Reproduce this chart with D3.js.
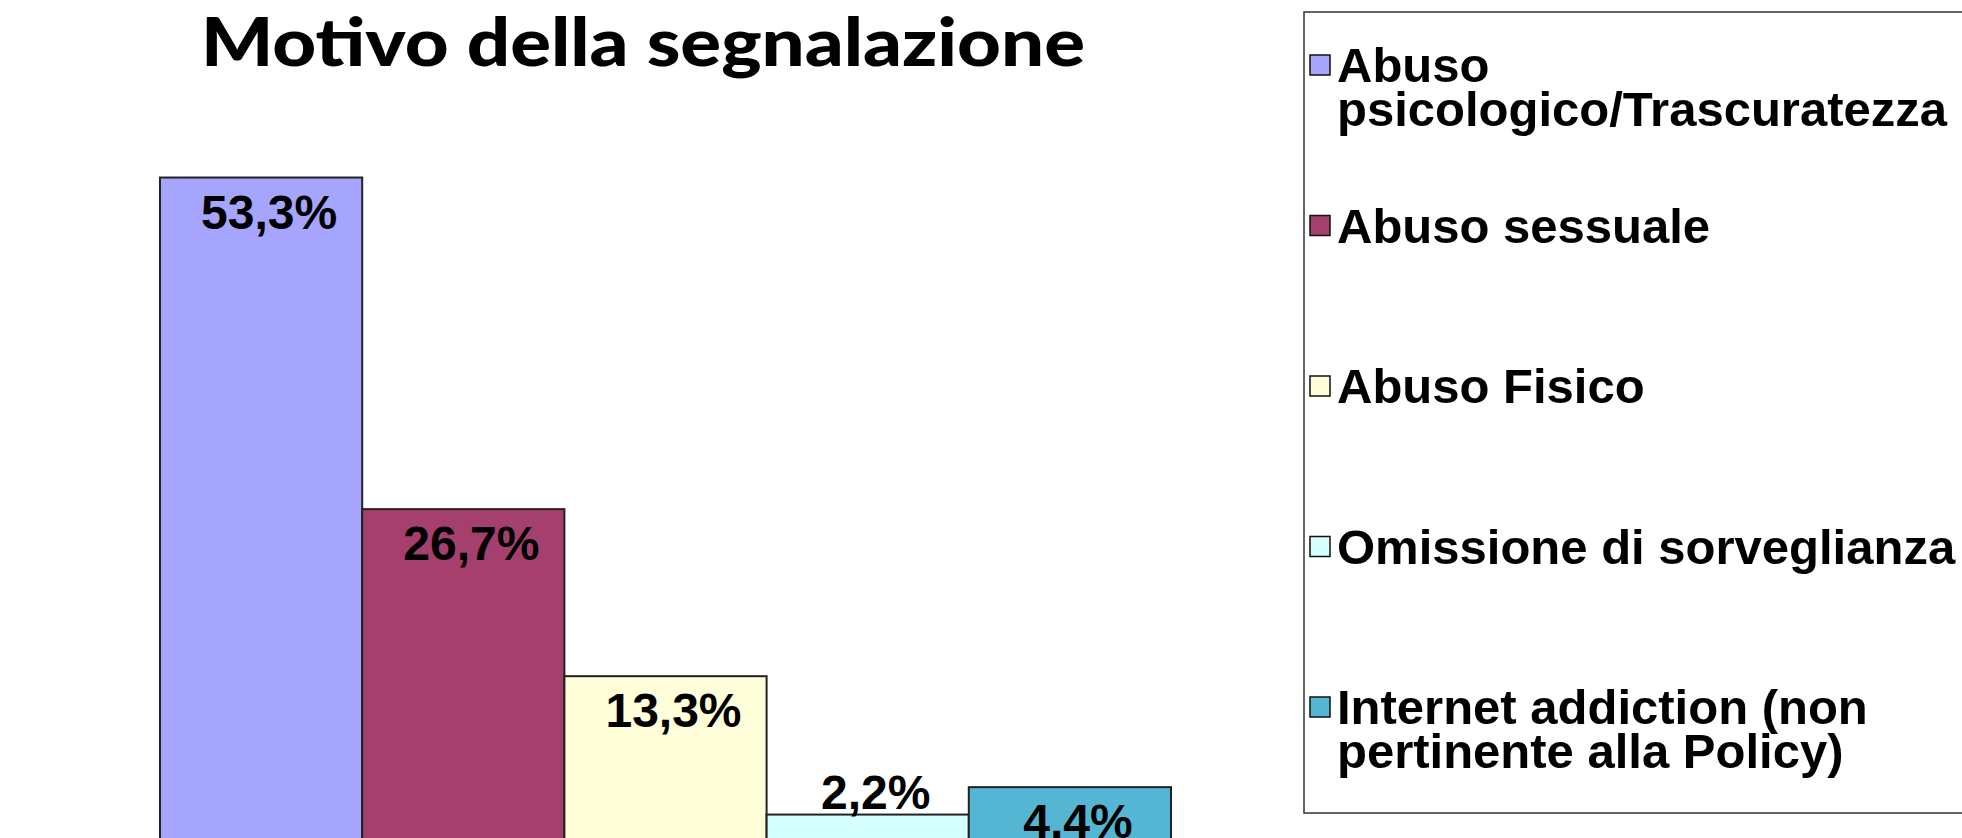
<!DOCTYPE html>
<html>
<head>
<meta charset="utf-8">
<script src="https://cdn.jsdelivr.net/npm/d3@7"></script>
<style>
  body { margin: 0; background: #fff; }
  svg { display: block; }
</style>
</head>
<body>
<script>
// chart data
var categories = ["Abuso psicologico/Trascuratezza", "Abuso sessuale", "Abuso Fisico",
    "Omissione di sorveglianza", "Internet addiction (non pertinente alla Policy)"];
var values = [53.3, 26.7, 13.3, 2.2, 4.4];
var legendLines = [
    ["Abuso", "psicologico/Trascuratezza"],
    ["Abuso sessuale"],
    ["Abuso Fisico"],
    ["Omissione di sorveglianza"],
    ["Internet addiction (non", "pertinente alla Policy)"]
];
var colors = ["#a5a5fd", "#a43f6e", "#feffd9", "#d6ffff", "#55b6d3"];
var title = "Motivo della segnalazione";

var width = 1962, height = 838;

var it = d3.formatLocale({decimal: ",", thousands: ".", grouping: [3], currency: ["€", ""]});
var pct = function (v) { return it.format(".1f")(v) + "%"; };

var svg = d3.select("body")
    .append("svg")
    .attr("width", width)
    .attr("height", height);

var color = d3.scaleOrdinal().domain(categories).range(colors);

var x = d3.scaleBand()
    .domain(categories)
    .range([160, 1171])
    .padding(0);

var y = d3.scaleLinear()
    .domain([0, 60])
    .range([842, 94]);

// title
svg.append("text")
    .attr("x", 643)
    .attr("y", 66)
    .attr("text-anchor", "middle")
    .attr("textLength", 884)
    .attr("lengthAdjust", "spacingAndGlyphs")
    .style("font-family", "Lato, 'Open Sans', sans-serif")
    .style("font-weight", 900)
    .style("font-size", "66px")
    .text(title);

// bars
var bars = svg.append("g").attr("class", "bars");
bars.selectAll("rect")
    .data(categories)
    .enter().append("rect")
    .attr("x", function (d) { return x(d); })
    .attr("y", function (d, i) { return y(values[i]); })
    .attr("width", x.bandwidth())
    .attr("height", function (d, i) { return y(0) - y(values[i]); })
    .style("fill", function (d) { return color(d); })
    .style("stroke", "#222")
    .style("stroke-width", 2);

// value labels
bars.selectAll("text")
    .data(categories)
    .enter().append("text")
    .attr("x", function (d) { return x(d) + x.bandwidth() / 2 + 8; })
    .attr("y", function (d, i) {
        return values[i] < 3 ? y(values[i]) - 6 : y(values[i]) + 51;
    })
    .attr("text-anchor", "middle")
    .style("font-family", "'Liberation Sans Narrow', 'Arial Narrow', sans-serif")
    .style("font-weight", "bold")
    .style("font-size", "48px")
    .text(function (d, i) { return pct(values[i]); });

// legend
var legend = svg.append("g").attr("class", "legend");
legend.append("rect")
    .attr("x", 1304)
    .attr("y", 12)
    .attr("width", 700)
    .attr("height", 801)
    .style("fill", "none")
    .style("stroke", "#333")
    .style("stroke-width", 1.5);

var ly = d3.scaleLinear().domain([0, categories.length - 1]).range([82, 724]);

var item = legend.selectAll("g.item")
    .data(categories)
    .enter().append("g")
    .attr("class", "item")
    .attr("transform", function (d, i) { return "translate(1310," + ly(i) + ")"; });

item.append("rect")
    .attr("x", 0)
    .attr("y", -27)
    .attr("width", 20)
    .attr("height", 20)
    .style("fill", function (d) { return color(d); })
    .style("stroke", "#111")
    .style("stroke-width", 1.5);

item.append("text")
    .attr("x", 27)
    .style("font-family", "'Liberation Sans', Arial, sans-serif")
    .style("font-weight", "bold")
    .style("font-size", "49px")
    .selectAll("tspan")
    .data(function (d, i) { return legendLines[i]; })
    .enter().append("tspan")
    .attr("x", 27)
    .attr("dy", function (d, j) { return j === 0 ? 0 : 44; })
    .text(function (d) { return d; });
</script>
</body>
</html>
